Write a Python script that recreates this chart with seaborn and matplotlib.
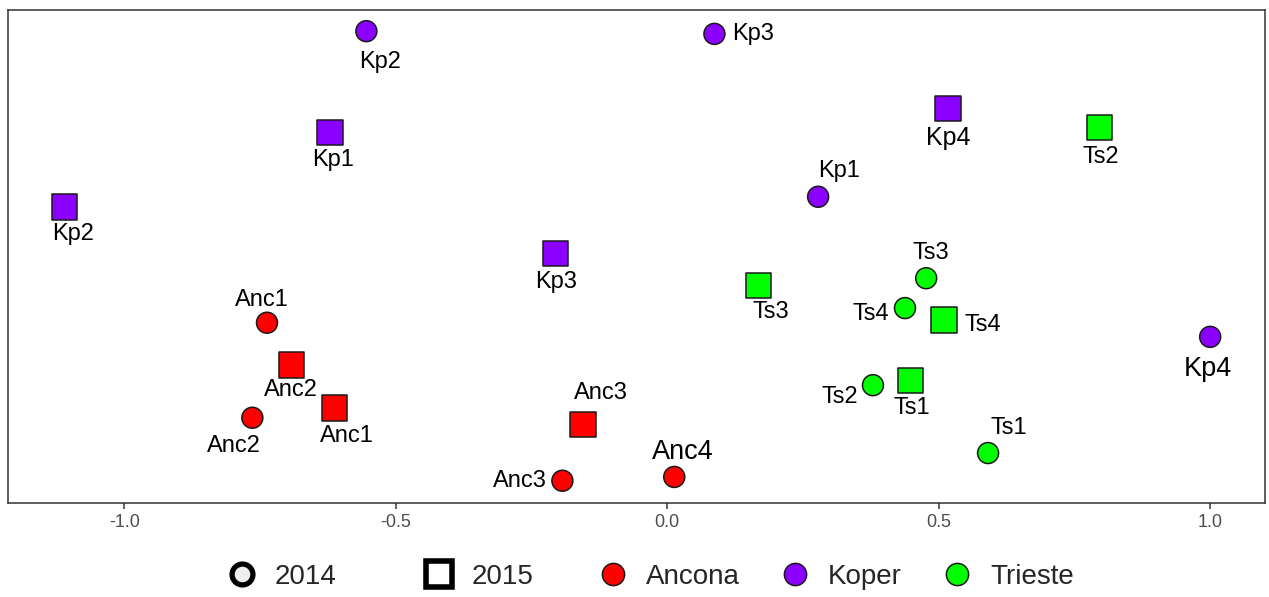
import matplotlib
matplotlib.use("Agg")
import matplotlib.pyplot as plt
from matplotlib.lines import Line2D
import pandas as pd
import seaborn as sns

# --- ordination coordinates -------------------------------------------------
# 2014 samples (circles)
site_2014 = ["Kp2", "Kp3", "Kp1", "Kp4", "Anc1", "Anc2", "Anc3", "Anc4",
             "Ts3", "Ts4", "Ts2", "Ts1"]
port_2014 = ["Koper", "Koper", "Koper", "Koper", "Ancona", "Ancona", "Ancona",
             "Ancona", "Trieste", "Trieste", "Trieste", "Trieste"]
x_2014 = [-0.554, 0.087, 0.278, 1.000, -0.737, -0.764, -0.193, 0.013,
          0.477, 0.438, 0.379, 0.591]
y_2014 = [0.414, 0.409, 0.109, -0.149, -0.123, -0.298, -0.414, -0.407,
          -0.041, -0.096, -0.238, -0.363]

# 2015 samples (squares)
site_2015 = ["Kp1", "Kp2", "Kp3", "Kp4", "Ts2", "Ts3", "Ts4", "Ts1",
             "Anc2", "Anc1", "Anc3"]
port_2015 = ["Koper", "Koper", "Koper", "Koper", "Trieste", "Trieste",
             "Trieste", "Trieste", "Ancona", "Ancona", "Ancona"]
x_2015 = [-0.621, -1.110, -0.206, 0.517, 0.796, 0.168, 0.510, 0.448,
          -0.692, -0.613, -0.155]
y_2015 = [0.227, 0.090, 0.004, 0.271, 0.236, -0.055, -0.118, -0.230,
          -0.201, -0.280, -0.311]

ports = ["Ancona", "Koper", "Trieste"]
years = ["2014", "2015"]
x_ticks = [-1.0, -0.5, 0.0, 0.5, 1.0]

# --- styling ------------------------------------------------------------------
palette = {"Ancona": "#FF0000", "Koper": "#8B00FF", "Trieste": "#00FF00"}
markers = {"2014": "o", "2015": "s"}
marker_area = {"2014": 228, "2015": 330}

# label placement (pixel offsets from each point, alignment)
label_pos_2014 = {
    "Kp2": (14, -31, "center"), "Kp3": (18, 0, "left"), "Kp1": (21, 26, "center"),
    "Kp4": (-2, -32, "center"), "Anc1": (-5, 23, "center"), "Anc2": (-18, -28, "center"),
    "Anc3": (-16, 0, "right"), "Anc4": (9, 25, "center"), "Ts3": (5, 25, "center"),
    "Ts4": (-16, -6, "right"), "Ts2": (-15, -12, "right"), "Ts1": (21, 25, "center"),
}
label_pos_2015 = {
    "Kp1": (3, -27, "center"), "Kp2": (9, -27, "center"), "Kp3": (1, -28, "center"),
    "Kp4": (0, -29, "center"), "Ts2": (1, -29, "center"), "Ts3": (12, -26, "center"),
    "Ts4": (20, -5, "left"), "Ts1": (1, -27, "center"), "Anc2": (-1, -25, "center"),
    "Anc1": (13, -28, "center"), "Anc3": (18, 32, "center"),
}
big_labels = {("2014", "Kp4"): 19.5, ("2014", "Anc4"): 19.5, ("2015", "Kp4"): 18}

sns.set_theme(style="white")
plt.rcParams["font.family"] = ["Liberation Sans", "DejaVu Sans"]

df = pd.concat([
    pd.DataFrame({"site": site_2014, "port": port_2014, "x": x_2014,
                  "y": y_2014, "year": "2014"}),
    pd.DataFrame({"site": site_2015, "port": port_2015, "x": x_2015,
                  "y": y_2015, "year": "2015"}),
], ignore_index=True)

fig = plt.figure(figsize=(12.69, 5.97), dpi=100)
ax = fig.add_axes([8 / 1269, 1 - 503 / 597, 1257 / 1269, 493 / 597])

for yr in years:
    sub = df[df["year"] == yr]
    sns.scatterplot(data=sub, x="x", y="y", hue="port", palette=palette,
                    marker=markers[yr], s=marker_area[yr], edgecolor="#1a1a1a",
                    linewidth=1.1, legend=False, ax=ax, zorder=3)

for _, row in df.iterrows():
    table = label_pos_2014 if row["year"] == "2014" else label_pos_2015
    dx, dy, ha = table[row["site"]]
    size = big_labels.get((row["year"], row["site"]), 17)
    ax.annotate(row["site"], (row["x"], row["y"]), xytext=(dx, dy),
                textcoords="offset pixels", ha=ha, va="center",
                fontsize=size, color="black", zorder=4)

ax.set_xlim(-1.214, 1.101)
ax.set_ylim(-0.455, 0.453)
ax.set_xticks(x_ticks)
ax.set_xticklabels([f"{t:.1f}" for t in x_ticks])
ax.set_yticks([])
ax.set_xlabel("")
ax.set_ylabel("")
ax.tick_params(axis="x", bottom=True, length=4, width=1.3, color="#555555",
               labelsize=13, labelcolor="#4d4d4d", pad=4)
for sp in ax.spines.values():
    sp.set_color("#333333")
    sp.set_linewidth(1.1)
    sp.set_visible(True)

# legends: shape = year, colour = port
year_handles = [
    Line2D([], [], linestyle="none", marker="o", markersize=15,
           markerfacecolor="#eeeeee", markeredgecolor="black", markeredgewidth=3.8),
    Line2D([], [], linestyle="none", marker="s", markersize=19,
           markerfacecolor="white", markeredgecolor="black", markeredgewidth=4),
]
port_handles = [
    Line2D([], [], linestyle="none", marker="o", markersize=16,
           markerfacecolor=palette[p], markeredgecolor="#1a1a1a", markeredgewidth=1.1)
    for p in ports
]

leg1 = fig.legend(year_handles, years, loc="center left", ncol=2,
                  bbox_to_anchor=(228 / 1269, 1 - 577 / 597), frameon=False,
                  fontsize=20, handlelength=1.0, handletextpad=0.68,
                  columnspacing=3.18, borderpad=0, borderaxespad=0)
leg2 = fig.legend(port_handles, ports, loc="center left", ncol=3,
                  bbox_to_anchor=(599 / 1269, 1 - 577 / 597), frameon=False,
                  fontsize=20, handlelength=1.0, handletextpad=0.68,
                  columnspacing=1.5, borderpad=0, borderaxespad=0)

fig.savefig("out.png", dpi=100)
